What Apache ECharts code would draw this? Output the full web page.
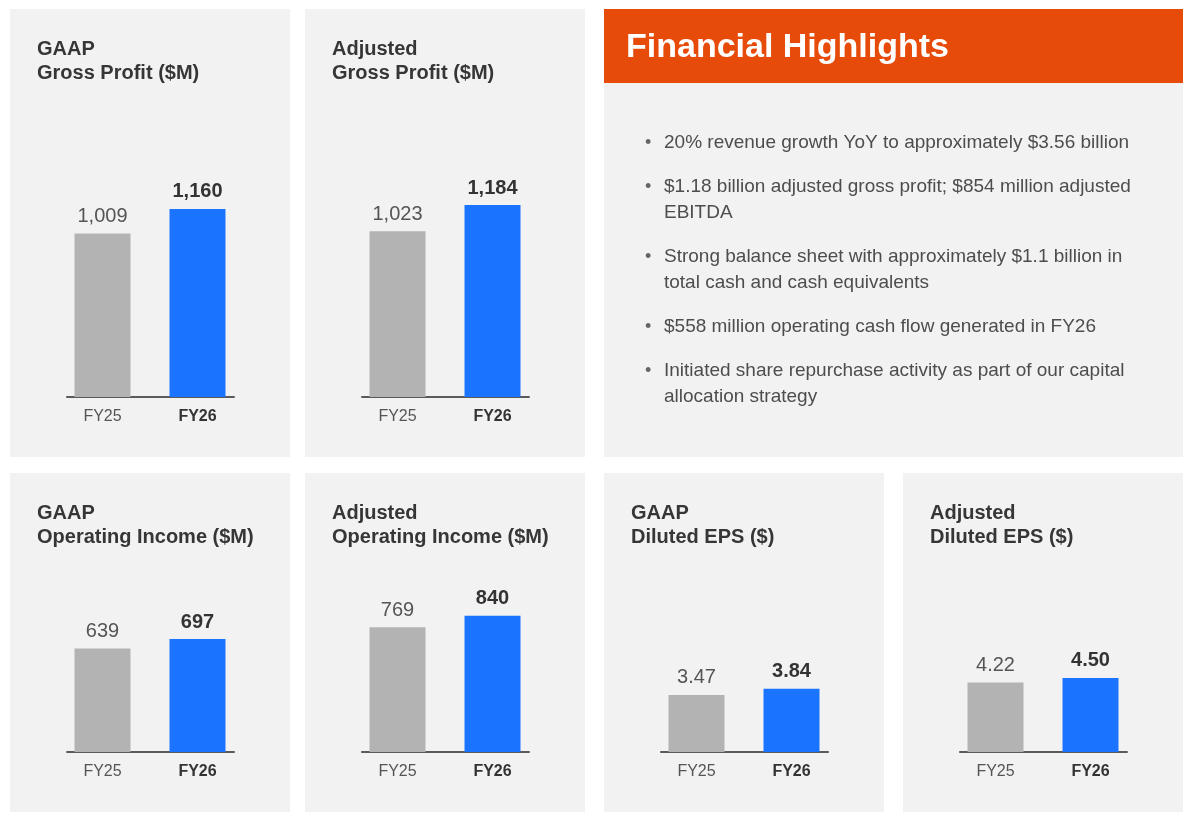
<!DOCTYPE html>
<html>
<head>
<meta charset="utf-8">
<script src="https://cdn.jsdelivr.net/npm/echarts@6/dist/echarts.min.js"></script>
<style>
  html, body { margin: 0; padding: 0; background: #fff; }
  #main { width: 1200px; height: 822px; }
</style>
</head>
<body>
<div id="main"></div>
<script>
// data
var years = ['FY25', 'FY26'];
var gaapGross = [1009, 1160];
var adjGross = [1023, 1184];
var gaapOpInc = [639, 697];
var adjOpInc = [769, 840];
var gaapEps = [3.47, 3.84];
var adjEps = [4.22, 4.50];

var highlights = [
  '20% revenue growth YoY to approximately $3.56 billion',
  '$1.18 billion adjusted gross profit; $854 million adjusted\nEBITDA',
  'Strong balance sheet with approximately $1.1 billion in\ntotal cash and cash equivalents',
  '$558 million operating cash flow generated in FY26',
  'Initiated share repurchase activity as part of our capital\nallocation strategy'
];

var FONT = '"Liberation Sans", Arial, sans-serif';
var barColors = ['#b3b3b3', '#1a74ff'];
var panelBg = '#f2f2f2';

// panels: left, top, bottom of panel, axis baseline y
var panels = [
  { name: ['GAAP', 'Gross Profit ($M)'], data: gaapGross, L: 10, T: 9, B: 457, axisY: 397, max: 1400, dec: 0 },
  { name: ['Adjusted', 'Gross Profit ($M)'], data: adjGross, L: 305, T: 9, B: 457, axisY: 397, max: 1400, dec: 0 },
  { name: ['GAAP', 'Operating Income ($M)'], data: gaapOpInc, L: 10, T: 473, B: 812, axisY: 752, max: 1400, dec: 0 },
  { name: ['Adjusted', 'Operating Income ($M)'], data: adjOpInc, L: 305, T: 473, B: 812, axisY: 752, max: 1400, dec: 0 },
  { name: ['GAAP', 'Diluted EPS ($)'], data: gaapEps, L: 604, T: 473, B: 812, axisY: 752, max: 13.8, dec: 2 },
  { name: ['Adjusted', 'Diluted EPS ($)'], data: adjEps, L: 903, T: 473, B: 812, axisY: 752, max: 13.8, dec: 2 }
];

var H = 227; // plot height in px
var myChart = echarts.init(document.getElementById('main'));

var grids = [], xAxes = [], yAxes = [], series = [], titles = [], graphics = [];

function fmt(v, dec) {
  return dec ? v.toFixed(dec) : v.toLocaleString('en-US');
}

panels.forEach(function (p, i) {
  graphics.push({ type: 'rect', z: -10, shape: { x: p.L, y: p.T, width: 280, height: p.B - p.T }, style: { fill: panelBg } });
  titles.push({
    text: p.name.join('\n'), left: p.L + 27, top: p.T + 28, padding: 0,
    textStyle: { fontFamily: FONT, fontSize: 20, fontWeight: 'bold', color: '#363636', lineHeight: 24 }
  });
  // bars grid
  grids.push({ left: p.L + 45, width: 190, top: p.axisY - H, height: H });
  // axis line grid
  grids.push({ left: p.L + 57, width: 167, top: p.axisY - H, height: H });
  var g = i * 2;
  xAxes.push({
    type: 'category', gridIndex: g, data: years,
    axisLine: { show: false }, axisTick: { show: false },
    axisLabel: {
      margin: 12,
      formatter: function (v) { return v === 'FY26' ? '{b|' + v + '}' : '{a|' + v + '}'; },
      rich: {
        a: { fontFamily: FONT, fontSize: 16, color: '#555' },
        b: { fontFamily: FONT, fontSize: 16, color: '#333', fontWeight: 'bold' }
      }
    }
  });
  xAxes.push({
    type: 'category', gridIndex: g + 1, data: [''],
    axisLine: { show: true, lineStyle: { color: '#5a5a5a', width: 2 } },
    axisTick: { show: false }, axisLabel: { show: false }
  });
  yAxes.push({ type: 'value', gridIndex: g, min: 0, max: p.max, show: false, splitLine: { show: false } });
  yAxes.push({ type: 'value', gridIndex: g + 1, min: 0, max: p.max, show: false, splitLine: { show: false } });
  series.push({
    type: 'bar', xAxisIndex: g, yAxisIndex: g, barWidth: 56, silent: true,
    data: p.data.map(function (v, k) {
      return {
        value: v,
        itemStyle: { color: barColors[k] },
        label: {
          show: true, position: 'top', distance: 7,
          fontFamily: FONT, fontSize: 20,
          fontWeight: k === 1 ? 'bold' : 'normal',
          color: k === 1 ? '#333' : '#555',
          formatter: function () { return fmt(v, p.dec); }
        }
      };
    })
  });
});

// highlights panel
graphics.push({ type: 'rect', z: -10, shape: { x: 604, y: 9, width: 579, height: 74 }, style: { fill: '#e64b0a' } });
graphics.push({ type: 'rect', z: -10, shape: { x: 604, y: 83, width: 579, height: 374 }, style: { fill: panelBg } });
titles.push({
  text: 'Financial Highlights', left: 626, top: 31, padding: 0,
  textStyle: { fontFamily: FONT, fontSize: 34, fontWeight: 'bold', color: '#fff' }
});
var yy = 130;
highlights.forEach(function (t) {
  graphics.push({ type: 'text', x: 645, y: yy, style: { text: '•', fontFamily: FONT, fontSize: 18, fill: '#666', lineHeight: 26 } });
  graphics.push({ type: 'text', x: 664, y: yy, style: { text: t, fontFamily: FONT, fontSize: 19, fill: '#4d4d4d', lineHeight: 26 } });
  yy += 44 + (t.split('\n').length - 1) * 26;
});

var option = {
  backgroundColor: '#fff',
  animation: false,
  title: titles,
  grid: grids,
  xAxis: xAxes,
  yAxis: yAxes,
  series: series,
  graphic: graphics
};
myChart.setOption(option);
</script>
</body>
</html>
